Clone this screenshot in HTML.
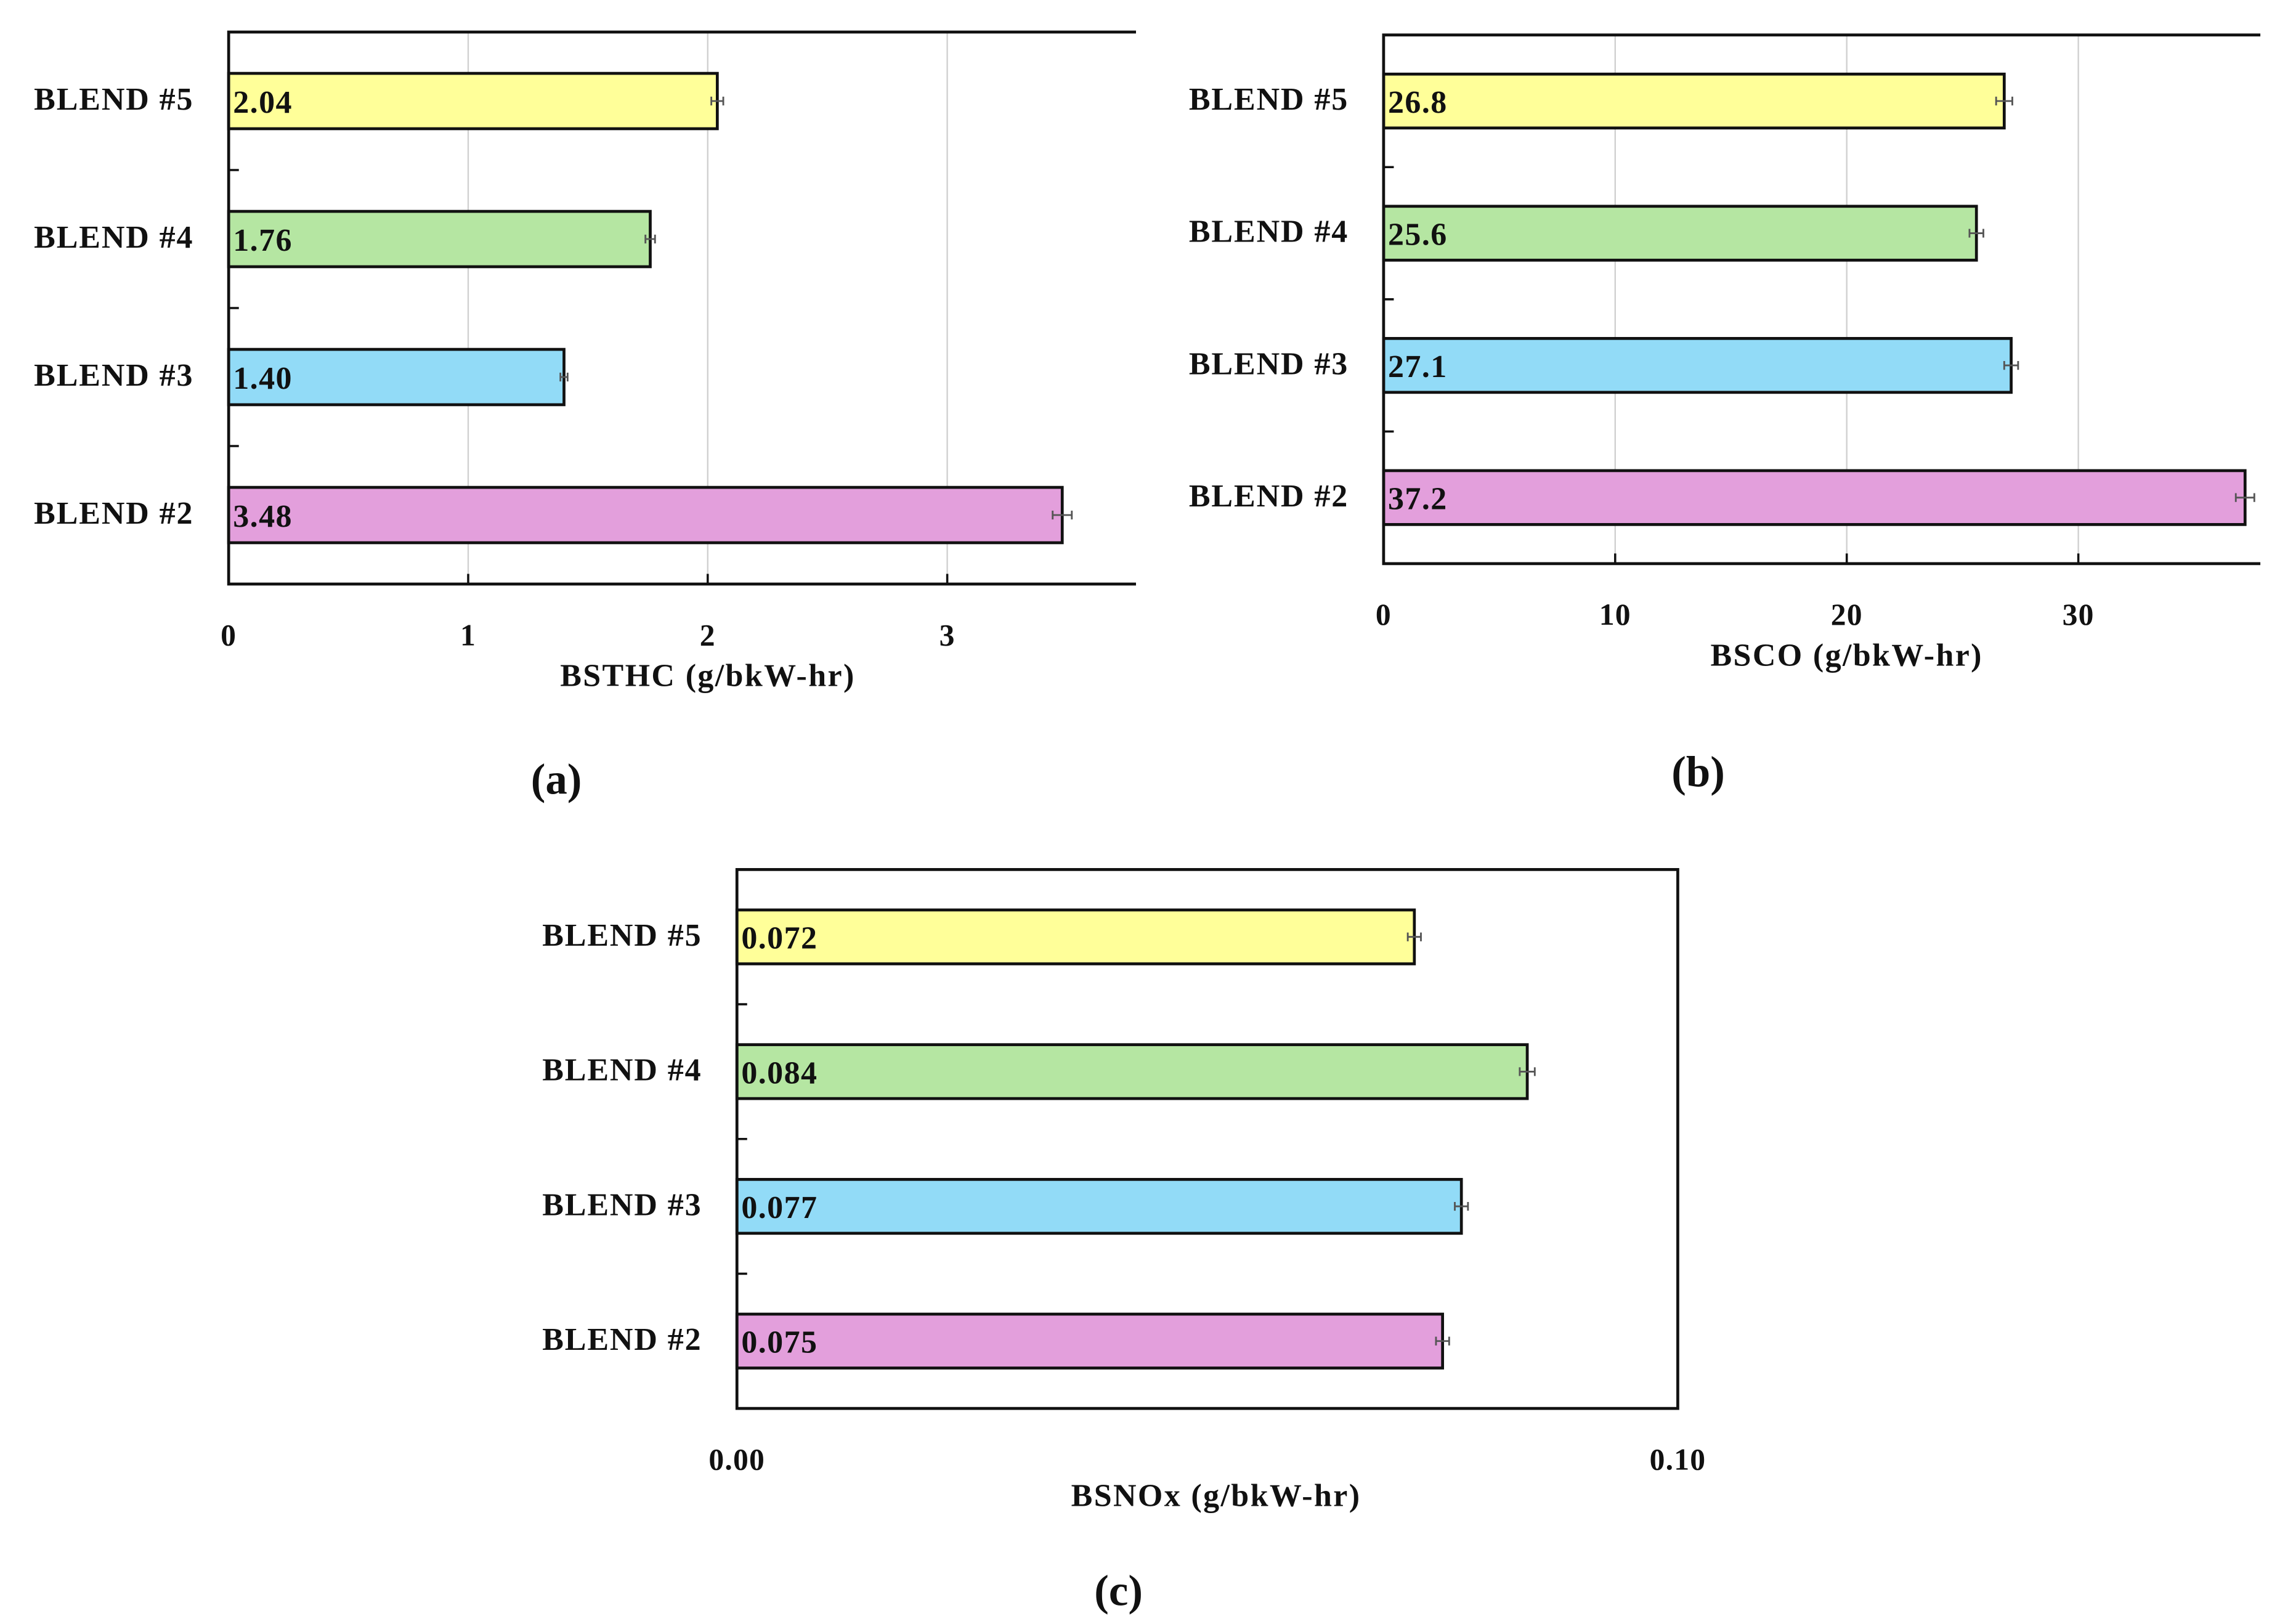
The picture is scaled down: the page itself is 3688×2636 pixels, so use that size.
<!DOCTYPE html>
<html><head><meta charset="utf-8"><style>
html,body{margin:0;padding:0;background:#fff}
svg{display:block}
text{font-family:"Liberation Serif",serif;font-weight:bold;fill:#111}
</style></head><body>
<svg id="fig" width="3688" height="2636" viewBox="0 0 1560 1115" preserveAspectRatio="none" xmlns="http://www.w3.org/2000/svg"></svg>
<script>
const categories = ["BLEND #5","BLEND #4","BLEND #3","BLEND #2"];
const colors = ["#ffff99","#b5e6a2","#92dbf7","#e39fdc"];
const valuesA = [2.04,1.76,1.40,3.48];
const labelsA = ["2.04","1.76","1.40","3.48"];
const errA = [0.025,0.02,0.015,0.04];
const ticksA = [0,1,2,3];
const tickLabelsA = ["0","1","2","3"];
const valuesB = [26.8,25.6,27.1,37.2];
const labelsB = ["26.8","25.6","27.1","37.2"];
const errB = [0.35,0.3,0.3,0.4];
const ticksB = [0,10,20,30];
const tickLabelsB = ["0","10","20","30"];
const valuesC = [0.072,0.084,0.077,0.075];
const labelsC = ["0.072","0.084","0.077","0.075"];
const errC = [0.0007,0.0008,0.0007,0.0007];
const ticksC = [0,0.1];
const tickLabelsC = ["0.00","0.10"];

const NS="http://www.w3.org/2000/svg";
const svg=document.getElementById('fig');
function mk(tag,attrs,parent){const e=document.createElementNS(NS,tag);for(const k in attrs)e.setAttribute(k,attrs[k]);(parent||svg).appendChild(e);return e;}

function panel(cfg){
  const g=mk('g',{});
  
  
  const x=v=>cfg.left+(v-0)/(cfg.max)*(cfg.right-cfg.left);
  const band=(cfg.bottom-cfg.top)/4;
  const yc=i=>cfg.top+band*(i+0.5);
  if(cfg.grid){cfg.ticks.forEach(t=>{if(t>0){const l=mk('line',{x1:x(t),x2:x(t),y1:cfg.top,y2:cfg.bottom,stroke:'#d0d0d0','stroke-width':1},g);
    
    }});}
  cfg.values.forEach((v,i)=>{
    const r=mk('rect',{x:x(0),y:yc(i)-cfg.barH/2,width:x(v)-x(0),height:cfg.barH,fill:colors[i],stroke:'#111','stroke-width':2},g);
    
    
    const e=cfg.err[i], ex1=x(v-e), ex2=x(v+e), yy=yc(i);
    const eb=mk('path',{d:`M${ex1},${yy}H${ex2}M${ex1},${yy-3}V${yy+3}M${ex2},${yy-3}V${yy+3}`,stroke:'#555','stroke-width':1.2,fill:'none'},g);
    
    
    const vt=mk('text',{x:x(0)+3,y:yc(i)+8,'font-size':22,'letter-spacing':0.6},g);vt.textContent=cfg.labels[i];
    
    
    const ct=mk('text',{x:cfg.left-24,y:yc(i)+6,'font-size':22,'text-anchor':'end','letter-spacing':0.8},g);ct.textContent=categories[i];
    
    
    if(i>0){const tk=mk('line',{x1:cfg.left,x2:cfg.left+7,y1:cfg.top+band*i,y2:cfg.top+band*i,stroke:'#111','stroke-width':1.5},g);
      
      }
  });
  const ax=mk('path',{d:cfg.box?`M${cfg.left},${cfg.top}H${cfg.right}V${cfg.bottom}H${cfg.left}Z`:`M${cfg.right},${cfg.top}H${cfg.left}V${cfg.bottom}H${cfg.right}`,stroke:'#111','stroke-width':2,fill:'none'},g);
  
  
  cfg.ticks.forEach((t,k)=>{
    const tl=mk('line',{x1:x(t),x2:x(t),y1:cfg.bottom,y2:cfg.bottom-7,stroke:'#111','stroke-width':1.5},g);
    
    
    const tt=mk('text',{x:x(t),y:cfg.bottom+42,'font-size':21,'text-anchor':'middle','letter-spacing':0.5},g);tt.textContent=cfg.tickLabels[k];
    
    
  });
  const ti=mk('text',{x:cfg.titleX,y:cfg.titleY,'font-size':22,'text-anchor':'middle','letter-spacing':1},g);ti.textContent=cfg.title;
  
  
  const pl=mk('text',{x:cfg.capX,y:cfg.capY,'font-size':30,'text-anchor':'middle'},g);pl.textContent=cfg.cap;
  
  
}
panel({id:'a',left:157,right:780,top:22,bottom:401,max:3.788,barH:38,values:valuesA,labels:labelsA,err:errA,ticks:ticksA,tickLabels:tickLabelsA,grid:true,box:false,title:'BSTHC (g/bkW-hr)',titleX:486,titleY:471,cap:'(a)',capX:382,capY:545});
panel({id:'b',left:950,right:1552,top:24,bottom:387,max:37.86,barH:37,values:valuesB,labels:labelsB,err:errB,ticks:ticksB,tickLabels:tickLabelsB,grid:true,box:false,title:'BSCO (g/bkW-hr)',titleX:1268,titleY:457,cap:'(b)',capX:1166,capY:540});
panel({id:'c',left:506,right:1152,top:597,bottom:967,max:0.1,barH:37,values:valuesC,labels:labelsC,err:errC,ticks:ticksC,tickLabels:tickLabelsC,grid:false,box:true,title:'BSNOx (g/bkW-hr)',titleX:835,titleY:1034,cap:'(c)',capX:768,capY:1102});
</script>
</body></html>
